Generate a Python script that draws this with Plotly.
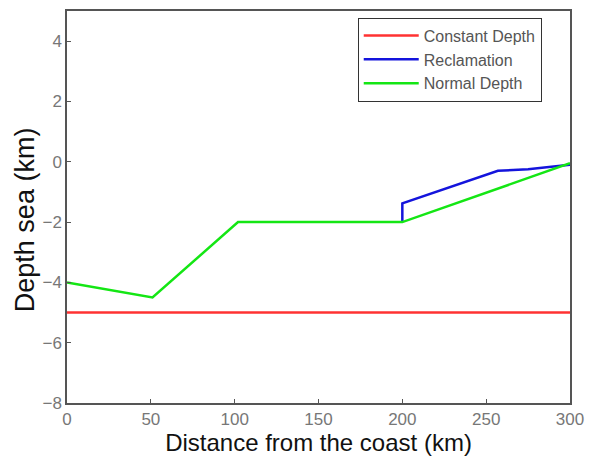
import plotly.graph_objects as go

const_x = [0, 300]
const_y = [-5, -5]

recl_x = [200, 200, 257, 275, 300]
recl_y = [-2, -1.38, -0.3, -0.25, -0.1]

norm_x = [0, 51, 102, 200, 300]
norm_y = [-4, -4.5, -2, -2, -0.05]

x_ticks = [0, 50, 100, 150, 200, 250, 300]
y_ticks = [-8, -6, -4, -2, 0, 2, 4]

fig = go.Figure()
fig.add_trace(go.Scatter(x=const_x, y=const_y, mode="lines", name="Constant Depth",
                         line=dict(color="rgb(255,50,50)", width=2.5)))
fig.add_trace(go.Scatter(x=recl_x, y=recl_y, mode="lines", name="Reclamation",
                         line=dict(color="rgb(20,20,220)", width=2.5)))
fig.add_trace(go.Scatter(x=norm_x, y=norm_y, mode="lines", name="Normal Depth",
                         line=dict(color="rgb(20,230,20)", width=2.5)))

axis_common = dict(showline=True, linecolor="#555", linewidth=1.5, mirror=True,
                   ticks="inside", ticklen=4, tickcolor="#555", showgrid=False,
                   zeroline=False, automargin=False,
                   tickfont=dict(family="Liberation Sans", size=17, color="#777"))

fig.update_xaxes(range=[0, 300], tickvals=x_ticks,
                 title=dict(text="Distance from the coast (km)", standoff=5,
                            font=dict(family="Liberation Sans", size=24, color="#111")),
                 **axis_common)
fig.update_yaxes(range=[-8, 5], tickvals=y_ticks, **axis_common)

fig.add_annotation(text="Depth sea (km)", xref="paper", yref="paper",
                   x=-0.083, y=0.467, xanchor="center", yanchor="middle",
                   textangle=-90, showarrow=False,
                   font=dict(family="Liberation Sans", size=27, color="#111"))

fig.update_layout(
    width=595, height=458,
    margin=dict(l=67, r=25, t=11, b=55),
    plot_bgcolor="white", paper_bgcolor="white",
    showlegend=True,
    legend=dict(x=0.578, y=0.983, xanchor="left", yanchor="top",
                bordercolor="#333", borderwidth=1, bgcolor="white",
                font=dict(family="Liberation Sans", size=16, color="#555"),
                tracegroupgap=0, itemwidth=55),
)

fig.write_html("out.html")
